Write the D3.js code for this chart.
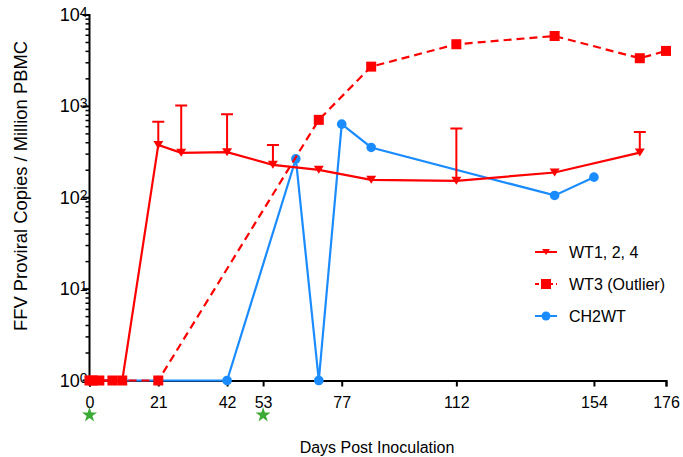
<!DOCTYPE html>
<html>
<head>
<meta charset="utf-8">
<script src="https://cdn.jsdelivr.net/npm/d3@7"></script>
<style>
  body { margin: 0; background: #fff; }
  text { font-family: Arial, "Liberation Sans", sans-serif; fill: #000; }
</style>
</head>
<body>
<svg id="chart" width="683" height="457"></svg>
<script>
// data
var xTicks = [0, 21, 42, 53, 77, 112, 154, 176];
var yTicks = [1, 10, 100, 1000, 10000];
var starDays = [0, 53];

var wtDays = [0, 1, 3, 7, 10, 21, 28, 42, 56, 70, 86, 112, 142, 168];
var wtVals = [1, 1, 1, 1, 1, 379, 310, 315, 229, 202, 157, 153, 189, 312];
var wtErr  = [null, null, null, null, null, 677, 1020, 822, 379, null, null, 574, null, 523];

var wt3Days = [0, 1, 3, 7, 10, 21, 70, 86, 112, 142, 168, 176];
var wt3Vals = [1, 1, 1, 1, 1, 1, 712, 2722, 4788, 5890, 3365, 4045];

var chDays = [0, 21, 42, 63, 70, 77, 86, 142, 154];
var chVals = [1, 1, 1, 267, 1, 639, 355, 106, 168];

var red = "#ff0000", blue = "#1a8cff", green = "#3aaa35";

var svg = d3.select("#chart");

var x = d3.scaleLinear().domain([0, 176]).range([89.5, 666]);
var y = d3.scaleLog().domain([1, 10000]).range([380.5, 15]);

// x axis
var xAxis = d3.axisBottom(x).tickValues(xTicks).tickSize(6).tickFormat(d => d);
var gx = svg.append("g").attr("transform", "translate(0,380.5)").call(xAxis);
gx.select(".domain").attr("stroke-width", 2);
gx.selectAll(".tick line").attr("stroke-width", 2);
gx.selectAll(".tick text").attr("font-size", 16).attr("dy", "1.15em").attr("fill", "#000");

// y axis: minor ticks
var minor = [];
for (var p = 0; p < 4; p++)
    for (var m = 2; m < 10; m++) minor.push(m * Math.pow(10, p));

var gy = svg.append("g").attr("transform", "translate(89.5,0)");
gy.selectAll(".minor").data(minor).enter().append("line")
    .attr("x1", -4).attr("x2", 0)
    .attr("y1", d => y(d)).attr("y2", d => y(d))
    .attr("stroke", "#000").attr("stroke-width", 1.5);
gy.selectAll(".major").data(yTicks).enter().append("line")
    .attr("x1", -7).attr("x2", 0)
    .attr("y1", d => y(d)).attr("y2", d => y(d))
    .attr("stroke", "#000").attr("stroke-width", 2);
gy.append("line").attr("x1", 0).attr("x2", 0)
    .attr("y1", y(10000) - 1).attr("y2", y(1) + 1)
    .attr("stroke", "#000").attr("stroke-width", 2);

var ylab = gy.selectAll(".ylab").data(yTicks).enter().append("text")
    .attr("x", -2).attr("y", d => y(d) + 6)
    .attr("text-anchor", "end").attr("font-size", 18);
ylab.append("tspan").text("10");
ylab.append("tspan").attr("dy", -4).attr("font-size", 14)
    .text(d => Math.round(Math.log10(d)));

// axis titles
svg.append("text").attr("x", 377).attr("y", 453)
    .attr("text-anchor", "middle").attr("font-size", 16)
    .text("Days Post Inoculation");
svg.append("text").attr("transform", "translate(27,186) rotate(-90)")
    .attr("text-anchor", "middle").attr("font-size", 18)
    .attr("textLength", 290).attr("lengthAdjust", "spacingAndGlyphs")
    .text("FFV Proviral Copies / Million PBMC");

// stars
svg.selectAll(".star").data(starDays).enter().append("path")
    .attr("d", d3.symbol().type(d3.symbolStar).size(70))
    .attr("transform", d => "translate(" + x(d) + ",415)")
    .attr("fill", green);

var line = d3.line().x(d => x(d[0])).y(d => y(d[1]));
var tri = "M-5,-4L5,-4L0,4Z";

// CH2WT
var chData = chDays.map((d, i) => [d, chVals[i]]);
svg.append("path").datum(chData).attr("d", line)
    .attr("fill", "none").attr("stroke", blue).attr("stroke-width", 2.2);
svg.selectAll(".ch").data(chData).enter().append("circle")
    .attr("cx", d => x(d[0])).attr("cy", d => y(d[1])).attr("r", 4.8)
    .attr("fill", blue);

// WT1, 2, 4
var wtData = wtDays.map((d, i) => [d, wtVals[i], wtErr[i]]);
svg.selectAll(".err").data(wtData.filter(d => d[2])).enter().append("path")
    .attr("d", d => "M" + x(d[0]) + "," + y(d[1]) + "V" + y(d[2]) +
        "M" + (x(d[0]) - 6) + "," + y(d[2]) + "H" + (x(d[0]) + 6))
    .attr("fill", "none").attr("stroke", red).attr("stroke-width", 2);
svg.append("path").datum(wtData).attr("d", line)
    .attr("fill", "none").attr("stroke", red).attr("stroke-width", 2.2);
svg.selectAll(".wt").data(wtData).enter().append("path")
    .attr("d", tri)
    .attr("transform", d => "translate(" + x(d[0]) + "," + y(d[1]) + ")")
    .attr("fill", red);

// WT3
var wt3Data = wt3Days.map((d, i) => [d, wt3Vals[i]]);
svg.append("path").datum(wt3Data).attr("d", line)
    .attr("fill", "none").attr("stroke", red).attr("stroke-width", 2.2)
    .attr("stroke-dasharray", "8,5");
svg.selectAll(".wt3").data(wt3Data).enter().append("rect")
    .attr("x", d => x(d[0]) - 5).attr("y", d => y(d[1]) - 5)
    .attr("width", 10).attr("height", 10)
    .attr("fill", red);

// legend
var legend = [
    {name: "WT1, 2, 4", color: red, dash: null, mark: "tri"},
    {name: "WT3 (Outlier)", color: red, dash: "4,3", mark: "sq"},
    {name: "CH2WT", color: blue, dash: null, mark: "circ"}
];
var lg = svg.selectAll(".lg").data(legend).enter().append("g")
    .attr("transform", (d, i) => "translate(535," + (252 + i * 32) + ")");
lg.append("line").attr("x1", 0).attr("x2", 22)
    .attr("stroke", d => d.color).attr("stroke-width", 2)
    .attr("stroke-dasharray", d => d.dash);
lg.each(function(d) {
    var g = d3.select(this);
    if (d.mark == "tri") g.append("path").attr("d", "M-4,-3L4,-3L0,3Z").attr("transform", "translate(11,0)").attr("fill", d.color);
    if (d.mark == "sq") g.append("rect").attr("x", 6).attr("y", -5).attr("width", 10).attr("height", 10).attr("fill", d.color);
    if (d.mark == "circ") g.append("circle").attr("cx", 11).attr("r", 4.5).attr("fill", d.color);
});
lg.append("text").attr("x", 34).attr("y", 6).attr("font-size", 16).text(d => d.name);
</script>
</body>
</html>
